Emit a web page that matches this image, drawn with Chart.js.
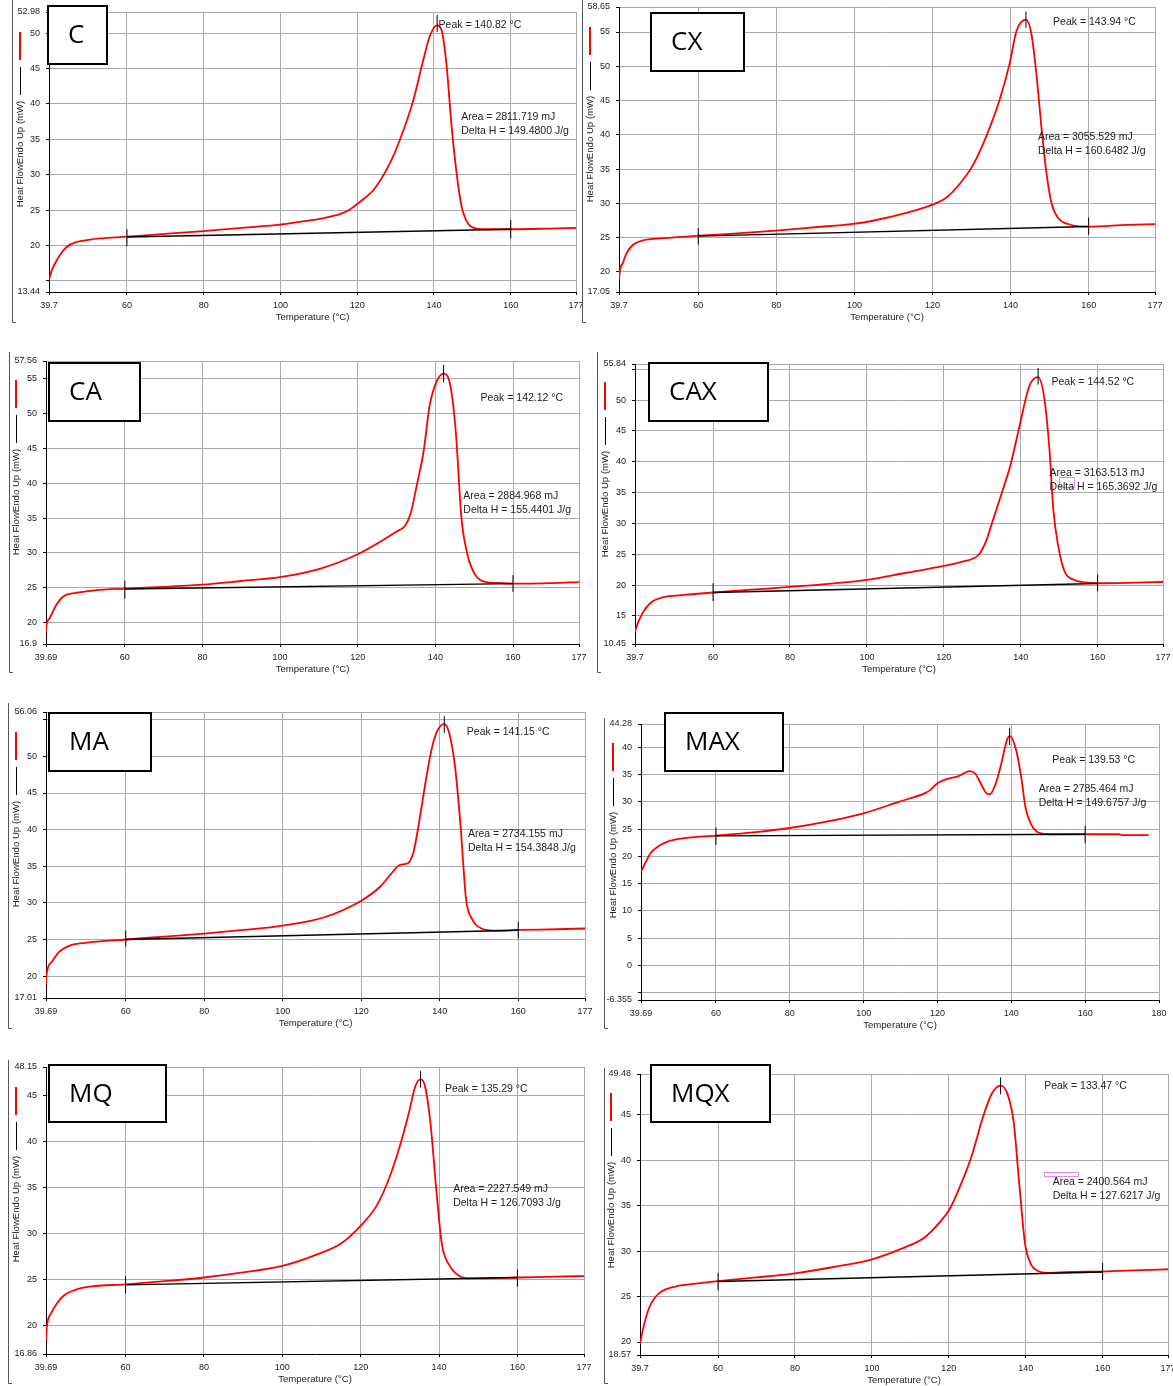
<!DOCTYPE html>
<html>
<head>
<meta charset="utf-8">
<title>DSC curves</title>
<script src="https://cdn.jsdelivr.net/npm/chart.js@4.4.1/dist/chart.umd.min.js"></script>
<style>
  body { margin: 0; background: #fff; width: 1173px; height: 1386px; position: relative; overflow: hidden; }
  canvas { position: absolute; }
</style>
</head>
<body>
<script>
// Amostras (ordem dos paineis: esquerda/direita, de cima para baixo)
const sampleNames = ['C', 'CX', 'CA', 'CAX', 'MA', 'MAX', 'MQ', 'MQX'];

// Curvas de fluxo de calor (vermelho): temperatura (°C) e fluxo (mW)
const tempC = [39.7, 40.5, 41.3, 42.6, 44.3, 46.9, 50, 53, 60, 70, 80, 90, 100, 105, 111, 116, 118.1, 121, 124.2, 128.5, 131.1, 134.6, 137.2, 139, 140.8, 142, 143.3, 144.6, 145.9, 147.2, 148.9, 151.1, 154.6, 160, 170, 177];
const flowC = [15.2, 16.6, 17.5, 18.7, 19.8, 20.5, 20.8, 21.0, 21.25, 21.65, 22.05, 22.5, 22.95, 23.35, 23.85, 24.55, 25.1, 26.3, 27.8, 31.6, 34.9, 40.5, 46.2, 49.7, 51.1, 50.4, 45.3, 36.8, 30.2, 25.5, 23.1, 22.4, 22.3, 22.3, 22.4, 22.5];

const tempCX = [39.7, 40.0, 40.7, 41.6, 43.3, 45.9, 51, 60, 70, 80, 90, 99.7, 104.75, 113.3, 120, 123.5, 126.8, 130.4, 133.8, 137.2, 139.8, 141.5, 143.9, 145.3, 146.6, 147.9, 149.2, 150.5, 152.2, 155.2, 160, 170, 177];
const flowCX = [18.9, 20.4, 21.3, 22.7, 23.95, 24.6, 24.9, 25.27, 25.6, 26.0, 26.5, 27.0, 27.45, 28.6, 29.8, 30.8, 32.7, 35.6, 39.8, 45.1, 50.5, 55.1, 56.8, 54.85, 49.0, 41.2, 34.4, 30.0, 27.85, 26.9, 26.6, 26.85, 26.95];

const tempCA = [39.69, 39.8, 40.5, 42.1, 44.0, 47.4, 52.2, 60, 70, 80, 90, 100, 110.2, 120, 124.9, 129.8, 132.2, 133.6, 135.1, 137.0, 138.5, 140.4, 142.1, 143.8, 145.3, 146.7, 148.2, 150.1, 153.0, 155.9, 160, 170, 177];
const flowCA = [18.5, 19.6, 20.5, 22.3, 23.66, 24.24, 24.6, 24.86, 25.1, 25.43, 25.95, 26.5, 27.7, 29.8, 31.3, 33.0, 33.9, 35.6, 39.4, 44.7, 51.1, 54.7, 55.75, 54.2, 47.1, 35.1, 29.9, 27.0, 25.8, 25.67, 25.57, 25.65, 25.8];

const tempCAX = [39.7, 40.3, 41.7, 43.7, 45.6, 48.5, 52.4, 60, 70, 80, 90, 100, 110.3, 120, 124.8, 129.2, 131.1, 132.6, 135, 137.4, 139.8, 142.2, 144.5, 146.1, 147.5, 148.5, 149.8, 151.4, 153.8, 156.7, 160, 170, 177];
const flowCAX = [12.5, 13.6, 15.5, 17.1, 17.75, 18.2, 18.4, 18.8, 19.25, 19.7, 20.2, 20.86, 22.0, 23.1, 23.8, 25.0, 27.3, 30.2, 34.8, 39.6, 46.1, 52.2, 53.7, 50.4, 41.8, 32.1, 26.2, 22.2, 20.86, 20.43, 20.3, 20.4, 20.5];

const tempMA = [39.69, 39.8, 41.1, 43.0, 45.9, 49.7, 60, 70, 80, 90, 100, 110.4, 120, 124.8, 127.5, 129.9, 131.9, 133.3, 134.7, 136.7, 138.1, 139.5, 141.1, 142.4, 143.9, 145.3, 146.7, 148.2, 150.6, 154.4, 160, 170, 177];
const flowMA = [18.8, 20.1, 21.9, 23.3, 24.2, 24.55, 25.0, 25.4, 25.8, 26.3, 26.9, 28.0, 30.3, 32.2, 33.9, 35.2, 35.4, 36.9, 40.9, 47.5, 51.4, 53.6, 54.4, 53.2, 48.6, 40.5, 30.5, 27.8, 26.5, 26.2, 26.3, 26.4, 26.5];

const tempMAX = [39.69, 40.8, 42.3, 44.3, 46.9, 50.9, 60, 70, 80, 90.3, 100, 109.5, 116.6, 118.1, 120, 122.6, 125.7, 128.7, 130.2, 131.7, 133.2, 134.2, 135.8, 137.3, 138.8, 139.6, 141.3, 142.8, 143.8, 145.4, 146.9, 149.4, 150.9, 160, 169.1, 170, 177.2];
const flowMAX = [17.2, 18.7, 20.6, 21.8, 22.7, 23.3, 23.8, 24.4, 25.2, 26.4, 27.9, 30.0, 31.6, 32.2, 33.4, 34.2, 34.7, 35.65, 35.2, 33.4, 31.6, 31.4, 33.4, 37.1, 41.3, 42.1, 39.5, 34.0, 29.1, 25.8, 24.5, 24.1, 24.05, 24.05, 24.05, 23.9, 23.9];

const tempMQ = [39.69, 39.9, 41.0, 42.5, 44.4, 46.8, 50.7, 60, 70, 80, 90, 100, 109.4, 115, 119.9, 123.9, 126.8, 129.7, 132.1, 134.0, 135.3, 136.4, 137.8, 139.3, 140.7, 142.7, 145.1, 148.0, 160, 170, 177];
const flowMQ = [18.3, 19.8, 21.3, 22.4, 23.3, 23.8, 24.2, 24.45, 24.8, 25.2, 25.75, 26.46, 27.8, 28.9, 30.8, 32.9, 35.5, 39.1, 42.8, 46.1, 46.8, 46.1, 42.1, 34.8, 28.9, 26.5, 25.4, 25.1, 25.2, 25.3, 25.35];

const tempMQX = [39.7, 40.7, 42.1, 43.6, 45.5, 48.9, 53.7, 60, 70, 80, 90, 100, 107.9, 113.7, 117.5, 120.2, 123.3, 126.2, 128.7, 131.1, 133.5, 135.4, 136.9, 138.3, 139.8, 141.2, 143.2, 145.6, 151.4, 160, 170, 177];
const flowMQX = [19.8, 21.8, 23.8, 24.9, 25.6, 26.1, 26.4, 26.7, 27.1, 27.55, 28.25, 29.1, 30.3, 31.5, 33.1, 34.6, 37.5, 40.8, 44.5, 47.25, 48.2, 47.1, 44.1, 37.5, 30.9, 28.7, 27.8, 27.6, 27.7, 27.75, 27.9, 28.0];

const curveTemps = [tempC, tempCX, tempCA, tempCAX, tempMA, tempMAX, tempMQ, tempMQX];
const curveFlows = [flowC, flowCX, flowCA, flowCAX, flowMA, flowMAX, flowMQ, flowMQX];

// Linha base (preto) entre 60 e 160 °C
const baseTemps = [60, 160];
const baseStart = [21.2, 25.2, 24.8, 18.8, 25.0, 23.75, 24.4, 26.65];
const baseEnd = [22.3, 26.6, 25.57, 20.25, 26.27, 24.05, 25.2, 27.7];

// Marcadores verticais [min, max] em mW
const markStart = [[19.9, 22.3], [24.0, 26.4], [23.4, 26.0], [17.4, 20.3], [24.0, 26.2], [22.1, 25.3], [23.47, 25.36], [25.7, 27.6]];
const markEnd = [[21.0, 23.6], [25.4, 27.9], [24.4, 26.8], [19.0, 21.7], [25.1, 27.4], [22.4, 25.6], [24.2, 26.1], [26.8, 28.7]];
const markPeak = [[50.15, 52.55], [55.6, 58.0], [54.5, 57.0], [52.5, 55.2], [53.2, 55.5], [40.4, 43.6], [45.9, 47.7], [47.25, 49.1]];

// Resultados da integracao
const peakTemps = ['140.82', '143.94', '142.12', '144.52', '141.15', '139.53', '135.29', '133.47'];
const areas = ['2811.719', '3055.529', '2884.968', '3163.513', '2734.155', '2785.464', '2227.549', '2400.564'];
const deltaHs = ['149.4800', '160.6482', '155.4401', '165.3692', '154.3848', '149.6757', '126.7093', '127.6217'];

// Ticks dos eixos
const xTickLists = [
  [39.7, 60, 80, 100, 120, 140, 160, 177],
  [39.7, 60, 80, 100, 120, 140, 160, 177],
  [39.69, 60, 80, 100, 120, 140, 160, 177],
  [39.7, 60, 80, 100, 120, 140, 160, 177],
  [39.69, 60, 80, 100, 120, 140, 160, 177],
  [39.69, 60, 80, 100, 120, 140, 160, 180],
  [39.69, 60, 80, 100, 120, 140, 160, 177],
  [39.7, 60, 80, 100, 120, 140, 160, 177]
];
const yTickLists = [
  [13.44, 15, 20, 25, 30, 35, 40, 45, 50, 52.98],
  [17.05, 20, 25, 30, 35, 40, 45, 50, 55, 58.65],
  [16.9, 20, 25, 30, 35, 40, 45, 50, 55, 57.56],
  [10.45, 15, 20, 25, 30, 35, 40, 45, 50, 55, 55.84],
  [17.01, 20, 25, 30, 35, 40, 45, 50, 55, 56.06],
  [-6.355, -5, 0, 5, 10, 15, 20, 25, 30, 35, 40, 44.28],
  [16.86, 20, 25, 30, 35, 40, 45, 48.15],
  [18.57, 20, 25, 30, 35, 40, 45, 49.48]
];

// Layout de cada painel (pixels da pagina); textos ancorados em coordenadas do grafico
const layouts = [
  { plot: { l: 49, t: 12, r: 576, b: 292 }, frame: { x: 12, y0: 0, y1: 322 }, legend: { x: 20, top: 32 }, box: { l: 48, t: 6, r: 107, b: 64 }, peakAt: [141.2, 51.14], areaAt: [147.1, 38.15] },
  { plot: { l: 619, t: 7, r: 1155, b: 292 }, frame: { x: 582, y0: 0, y1: 322 }, legend: { x: 590, top: 27 }, box: { l: 651, t: 13, r: 744, b: 71 }, peakAt: [150.9, 56.4], areaAt: [147.0, 39.7] },
  { plot: { l: 46, t: 361, r: 579, b: 644 }, frame: { x: 9, y0: 352, y1: 672 }, legend: { x: 16, top: 380 }, box: { l: 49, t: 363, r: 140, b: 421 }, peakAt: [151.6, 52.3], areaAt: [147.2, 38.1] },
  { plot: { l: 635, t: 364, r: 1163, b: 644 }, frame: { x: 597, y0: 352, y1: 672 }, legend: { x: 605, top: 382 }, box: { l: 649, t: 363, r: 768, b: 421 }, peakAt: [148.0, 52.9], areaAt: [147.5, 38.1], pink: [150, 37.5, 153.9, 35.9] },
  { plot: { l: 46, t: 712, r: 585, b: 998 }, frame: { x: 8, y0: 703, y1: 1028 }, legend: { x: 16, top: 732 }, box: { l: 49, t: 713, r: 151, b: 771 }, peakAt: [146.9, 53.3], areaAt: [147.2, 39.45] },
  { plot: { l: 641, t: 724, r: 1159, b: 1000 }, frame: { x: 604, y0: 718, y1: 1028 }, legend: { x: 613, top: 743 }, box: { l: 665, t: 713, r: 783, b: 771 }, peakAt: [151.1, 37.7], areaAt: [147.4, 32.4] },
  { plot: { l: 46, t: 1067, r: 584, b: 1354 }, frame: { x: 8, y0: 1060, y1: 1383 }, legend: { x: 16, top: 1087 }, box: { l: 49, t: 1065, r: 166, b: 1122 }, peakAt: [141.5, 45.7], areaAt: [143.6, 34.8] },
  { plot: { l: 640, t: 1074, r: 1168, b: 1355 }, frame: { x: 604, y0: 1068, y1: 1383 }, legend: { x: 611, top: 1093 }, box: { l: 651, t: 1065, r: 770, b: 1122 }, peakAt: [144.8, 48.2], areaAt: [147.0, 37.6], pink: [144.8, 38.75, 153.5, 38.3] }
];

const FONT = '"Liberation Sans", Arial, sans-serif';
const GRID = '#aaaaaa';
const TEXT = '#222222';
Chart.defaults.font.family = FONT;

// Margens do canvas em volta da area de plotagem
const PAD_L = 60, PAD_T = 20, PAD_R = 20, PAD_B = 36;

function segmento(x, faixa) {
  return [{ x: x, y: faixa[0] }, { x: x, y: faixa[1] }];
}

function criarPainel(i) {
  const lay = layouts[i];
  const cv = {
    x: lay.plot.l - PAD_L,
    y: lay.plot.t - PAD_T,
    w: lay.plot.r - lay.plot.l + PAD_L + PAD_R,
    h: lay.plot.b - lay.plot.t + PAD_T + PAD_B
  };
  const canvas = document.createElement('canvas');
  canvas.width = cv.w;
  canvas.height = cv.h;
  canvas.style.left = cv.x + 'px';
  canvas.style.top = cv.y + 'px';
  document.body.appendChild(canvas);

  const xT = xTickLists[i], yT = yTickLists[i];
  const curva = curveTemps[i].map((t, k) => ({ x: t, y: curveFlows[i][k] }));
  const base = [{ x: baseTemps[0], y: baseStart[i] }, { x: baseTemps[1], y: baseEnd[i] }];
  const pico = parseFloat(peakTemps[i]);

  // Decoracoes do painel: textos, legenda, moldura e caixa com o nome
  const decor = {
    id: 'decor' + i,
    afterDatasetsDraw(chart) {
      const ctx = chart.ctx, sx = chart.scales.x, sy = chart.scales.y;
      ctx.save();
      if (lay.pink) {
        ctx.strokeStyle = '#e58ae5';
        ctx.lineWidth = 1;
        const x0 = Math.round(sx.getPixelForValue(lay.pink[0])) + 0.5;
        const y0 = Math.round(sy.getPixelForValue(lay.pink[1])) + 0.5;
        const x1 = Math.round(sx.getPixelForValue(lay.pink[2])) + 0.5;
        const y1 = Math.round(sy.getPixelForValue(lay.pink[3])) + 0.5;
        ctx.strokeRect(x0, y0, x1 - x0, y1 - y0);
      }
      ctx.font = '10.5px ' + FONT;
      ctx.fillStyle = TEXT;
      ctx.textAlign = 'left';
      ctx.textBaseline = 'middle';
      ctx.fillText('Peak = ' + peakTemps[i] + ' °C', sx.getPixelForValue(lay.peakAt[0]), sy.getPixelForValue(lay.peakAt[1]));
      const ax = sx.getPixelForValue(lay.areaAt[0]), ay = sy.getPixelForValue(lay.areaAt[1]);
      ctx.fillText('Area = ' + areas[i] + ' mJ', ax, ay);
      ctx.fillText('Delta H = ' + deltaHs[i] + ' J/g', ax, ay + 14);
      ctx.restore();
    },
    afterDraw(chart) {
      const ctx = chart.ctx;
      const ox = cv.x, oy = cv.y;
      ctx.save();
      // moldura da captura
      ctx.strokeStyle = '#555';
      ctx.lineWidth = 1;
      ctx.beginPath();
      ctx.moveTo(lay.frame.x - ox + 0.5, lay.frame.y0 - oy);
      ctx.lineTo(lay.frame.x - ox + 0.5, lay.frame.y1 - oy + 0.5);
      ctx.lineTo(lay.frame.x - ox + 4, lay.frame.y1 - oy + 0.5);
      ctx.stroke();
      // legenda vertical
      const lx = lay.legend.x - ox, lt = lay.legend.top - oy;
      ctx.strokeStyle = '#ff0000';
      ctx.lineWidth = 2;
      ctx.beginPath();
      ctx.moveTo(lx, lt);
      ctx.lineTo(lx, lt + 28);
      ctx.stroke();
      ctx.strokeStyle = '#000';
      ctx.lineWidth = 1;
      ctx.beginPath();
      ctx.moveTo(lx + 0.5, lt + 35);
      ctx.lineTo(lx + 0.5, lt + 63);
      ctx.stroke();
      // titulo do eixo y
      ctx.fillStyle = TEXT;
      ctx.font = '9.6px ' + FONT;
      ctx.textAlign = 'center';
      ctx.textBaseline = 'middle';
      ctx.save();
      ctx.translate(lx + 0.5, lt + 122);
      ctx.rotate(-Math.PI / 2);
      ctx.fillText('Heat FlowEndo Up (mW)', 0, 0);
      ctx.restore();
      // titulo do eixo x
      ctx.fillText('Temperature (°C)', (lay.plot.l + lay.plot.r) / 2 - ox, lay.plot.b + 25 - oy);
      // caixa com o nome da amostra
      const bx = lay.box.l - ox, by = lay.box.t - oy;
      const bw = lay.box.r - lay.box.l, bh = lay.box.b - lay.box.t;
      ctx.fillStyle = '#fff';
      ctx.fillRect(bx, by, bw, bh);
      ctx.strokeStyle = '#000';
      ctx.lineWidth = 2;
      ctx.strokeRect(bx, by, bw, bh);
      ctx.fillStyle = '#000';
      ctx.font = '26px "Open Sans", sans-serif';
      ctx.textAlign = 'left';
      ctx.fillText(sampleNames[i], bx + 20, by + bh / 2 + 1);
      ctx.restore();
    }
  };

  new Chart(canvas, {
    type: 'line',
    data: {
      datasets: [
        { data: base, borderColor: '#000', borderWidth: 1.4, pointRadius: 0 },
        { data: segmento(baseTemps[0], markStart[i]), borderColor: '#000', borderWidth: 1, pointRadius: 0 },
        { data: segmento(baseTemps[1], markEnd[i]), borderColor: '#000', borderWidth: 1, pointRadius: 0 },
        { data: segmento(pico, markPeak[i]), borderColor: '#000', borderWidth: 1, pointRadius: 0 },
        { data: curva, borderColor: '#ff0000', borderWidth: 1.8, pointRadius: 0, cubicInterpolationMode: 'monotone' }
      ]
    },
    options: {
      responsive: false,
      animation: false,
      events: [],
      layout: { padding: { left: 0, top: PAD_T, right: PAD_R, bottom: 0 } },
      plugins: { legend: { display: false }, tooltip: { enabled: false } },
      scales: {
        x: {
          type: 'linear',
          min: xT[0],
          max: xT[xT.length - 1],
          afterFit(scale) { scale.height = PAD_B; },
          afterBuildTicks(scale) { scale.ticks = xT.map(v => ({ value: v })); },
          ticks: { autoSkip: false, maxRotation: 0, padding: 5, color: TEXT, font: { size: 9 }, callback: v => String(v) },
          grid: { color: GRID, lineWidth: 1, tickColor: '#000', tickLength: 3 },
          border: { color: '#000', width: 1 }
        },
        y: {
          type: 'linear',
          min: yT[0],
          max: yT[yT.length - 1],
          afterFit(scale) { scale.width = PAD_L; },
          afterBuildTicks(scale) { scale.ticks = yT.map(v => ({ value: v })); },
          ticks: {
            autoSkip: false, padding: 6, color: TEXT, font: { size: 9 },
            callback: function (v) {
              const lo = yT[0], hi = yT[yT.length - 1];
              if (v !== lo && v !== hi) {
                const d = Math.min(v - lo, hi - v) / (hi - lo) * (lay.plot.b - lay.plot.t);
                if (d < 12) return '';
              }
              return String(v);
            }
          },
          grid: { color: GRID, lineWidth: 1, tickColor: '#000', tickLength: 3 },
          border: { color: '#000', width: 1 }
        }
      }
    },
    plugins: [decor]
  });
}

sampleNames.forEach((nome, i) => criarPainel(i));
</script>
</body>
</html>
